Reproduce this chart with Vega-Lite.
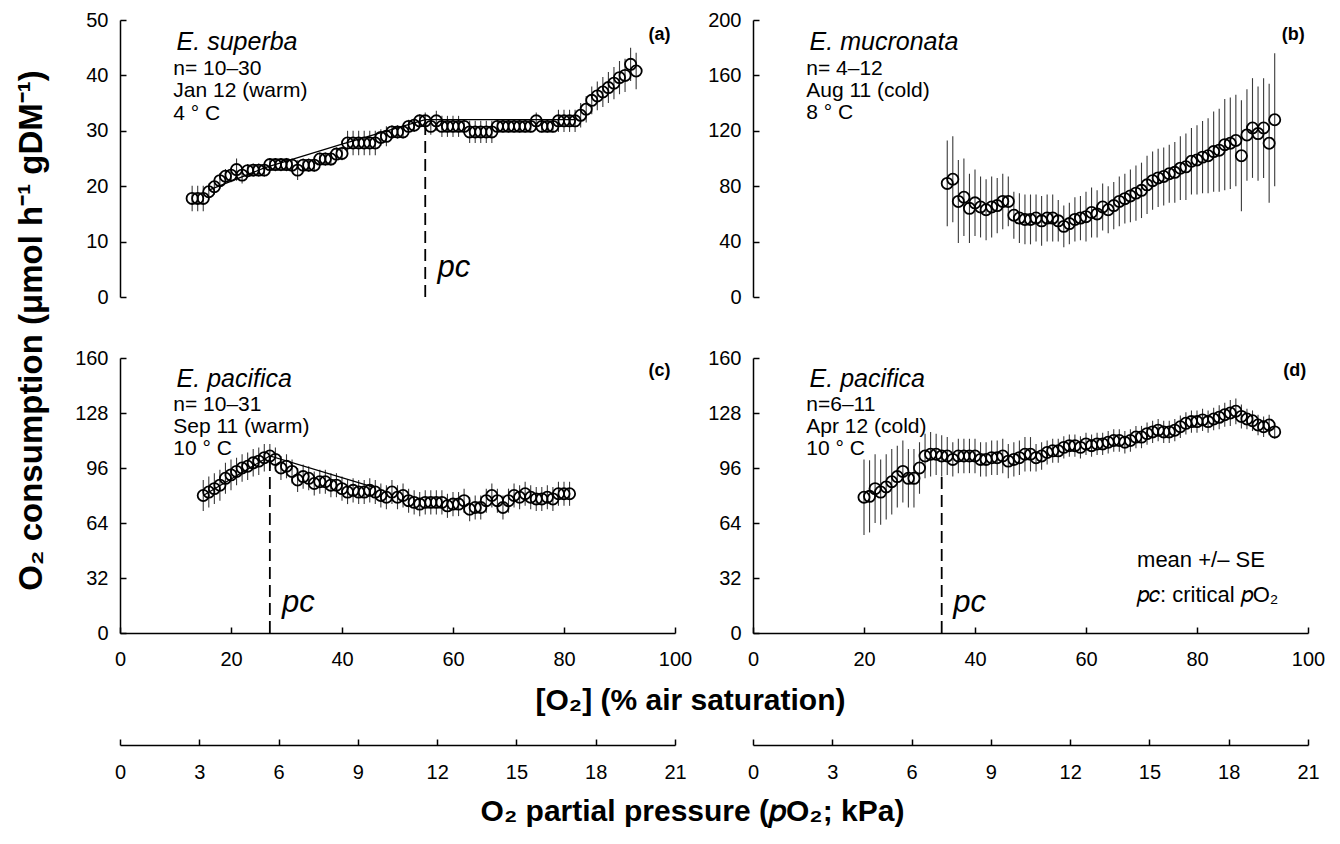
{
"$schema":"https://vega.github.io/schema/vega-lite/v6.json",
"padding":{"left":15,"top":10,"right":5,"bottom":5},
"background":"white",
"config":{
 "font":"Liberation Sans",
 "view":{"stroke":null},
 "axis":{"labelFont":"Liberation Sans","labelFontSize":20,"labelColor":"black","titleFont":"Liberation Sans","titleFontSize":30,"titleFontWeight":"bold","titleColor":"black","domainColor":"black","tickColor":"black","domainWidth":1.5,"tickWidth":1.5,"tickSize":-6,"grid":false,"labelFlush":false,"labelOverlap":false},
 "axisY":{"labelPadding":18},
 "axisX":{"labelPadding":22},
 "text":{"font":"Liberation Sans","color":"black"}
},
"datasets":{
"a":[{"x":13,"y":17.8,"se":2.3},{"x":14,"y":17.8,"se":2.3},{"x":15,"y":17.8,"se":2.3},{"x":16,"y":19,"se":1.5},{"x":17,"y":19.9,"se":1.4},{"x":18,"y":21,"se":1.4},{"x":19,"y":21.8,"se":1.3},{"x":20,"y":22,"se":1.3},{"x":21,"y":23,"se":2},{"x":22,"y":22,"se":1.5},{"x":23,"y":22.8,"se":1.2},{"x":24,"y":22.9,"se":1.2},{"x":25,"y":22.9,"se":1.2},{"x":26,"y":22.9,"se":1.2},{"x":27,"y":23.9,"se":1.2},{"x":28,"y":23.9,"se":1.2},{"x":29,"y":23.9,"se":1.2},{"x":30,"y":23.9,"se":1.2},{"x":31,"y":23.8,"se":1.2},{"x":32,"y":22.9,"se":1.8},{"x":33,"y":23.8,"se":1.2},{"x":34,"y":23.8,"se":1.2},{"x":35,"y":23.8,"se":1.2},{"x":36,"y":24.9,"se":1.2},{"x":37,"y":24.9,"se":1.2},{"x":38,"y":24.9,"se":1.2},{"x":39,"y":25.8,"se":1.2},{"x":40,"y":25.9,"se":1.2},{"x":41,"y":27.8,"se":2.2},{"x":42,"y":27.8,"se":2.2},{"x":43,"y":27.8,"se":2.2},{"x":44,"y":27.8,"se":2.2},{"x":45,"y":27.8,"se":2.2},{"x":46,"y":27.8,"se":2.2},{"x":47,"y":28.8,"se":1.5},{"x":48,"y":29,"se":1.8},{"x":49,"y":29.8,"se":1.2},{"x":50,"y":29.8,"se":1.2},{"x":51,"y":29.8,"se":1.2},{"x":52,"y":30.8,"se":1.2},{"x":53,"y":31,"se":1.2},{"x":54,"y":31.8,"se":1.2},{"x":55,"y":31.8,"se":1.5},{"x":56,"y":30.8,"se":1.5},{"x":57,"y":31.8,"se":1.8},{"x":58,"y":30.8,"se":1.9},{"x":59,"y":30.8,"se":1.9},{"x":60,"y":30.8,"se":1.9},{"x":61,"y":30.8,"se":1.9},{"x":62,"y":30.8,"se":1.2},{"x":63,"y":29.8,"se":2},{"x":64,"y":29.8,"se":2},{"x":65,"y":29.8,"se":2},{"x":66,"y":29.8,"se":2},{"x":67,"y":29.8,"se":2},{"x":68,"y":30.8,"se":1.1},{"x":69,"y":30.8,"se":1.1},{"x":70,"y":30.8,"se":1.1},{"x":71,"y":30.8,"se":1.1},{"x":72,"y":30.8,"se":1.1},{"x":73,"y":30.8,"se":1.1},{"x":74,"y":30.8,"se":1.1},{"x":75,"y":31.8,"se":1.5},{"x":76,"y":30.8,"se":1.1},{"x":77,"y":30.8,"se":1.1},{"x":78,"y":30.8,"se":1.1},{"x":79,"y":31.8,"se":2},{"x":80,"y":31.8,"se":2},{"x":81,"y":31.8,"se":2},{"x":82,"y":31.8,"se":2},{"x":83,"y":32.8,"se":2.2},{"x":84,"y":33.9,"se":2.4},{"x":85,"y":35.5,"se":2.5},{"x":86,"y":36.3,"se":2.6},{"x":87,"y":37,"se":2.7},{"x":88,"y":37.8,"se":2.8},{"x":89,"y":38.6,"se":2.9},{"x":90,"y":39.6,"se":3},{"x":91,"y":40,"se":3},{"x":92,"y":42,"se":3},{"x":93,"y":40.8,"se":3.3}],
"b":[{"x":35,"y":82,"se":31},{"x":36,"y":85,"se":31},{"x":37,"y":69,"se":30},{"x":38,"y":72,"se":28},{"x":39,"y":64,"se":25},{"x":40,"y":68,"se":24},{"x":41,"y":65,"se":22},{"x":42,"y":63,"se":22},{"x":43,"y":65,"se":22},{"x":44,"y":66,"se":20},{"x":45,"y":69,"se":20},{"x":46,"y":69,"se":18},{"x":47,"y":59,"se":17},{"x":48,"y":57,"se":18},{"x":49,"y":56,"se":18},{"x":50,"y":56,"se":18},{"x":51,"y":57,"se":17},{"x":52,"y":55,"se":18},{"x":53,"y":57,"se":17},{"x":54,"y":57,"se":17},{"x":55,"y":55,"se":15},{"x":56,"y":51,"se":15},{"x":57,"y":53,"se":15},{"x":58,"y":56,"se":16},{"x":59,"y":57,"se":16},{"x":60,"y":58,"se":18},{"x":61,"y":61,"se":18},{"x":62,"y":60,"se":17},{"x":63,"y":65,"se":17},{"x":64,"y":63,"se":17},{"x":65,"y":66,"se":17},{"x":66,"y":69,"se":18},{"x":67,"y":71,"se":18},{"x":68,"y":73,"se":19},{"x":69,"y":75,"se":20},{"x":70,"y":77,"se":20},{"x":71,"y":81,"se":21},{"x":72,"y":84,"se":21},{"x":73,"y":86,"se":21},{"x":74,"y":87,"se":21},{"x":75,"y":89,"se":21},{"x":76,"y":90,"se":22},{"x":77,"y":93,"se":23},{"x":78,"y":94,"se":24},{"x":79,"y":98,"se":24},{"x":80,"y":99,"se":25},{"x":81,"y":101,"se":26},{"x":82,"y":102,"se":27},{"x":83,"y":105,"se":29},{"x":84,"y":106,"se":30},{"x":85,"y":110,"se":33},{"x":86,"y":111,"se":33},{"x":87,"y":113,"se":33},{"x":88,"y":102,"se":40},{"x":89,"y":117,"se":33},{"x":90,"y":122,"se":36},{"x":91,"y":118,"se":34},{"x":92,"y":122,"se":36},{"x":93,"y":111,"se":43},{"x":94,"y":128,"se":48}],
"c":[{"x":15,"y":80,"se":9},{"x":16,"y":82,"se":9},{"x":17,"y":84,"se":9},{"x":18,"y":86,"se":9},{"x":19,"y":90,"se":9},{"x":20,"y":92,"se":9},{"x":21,"y":94,"se":8},{"x":22,"y":96,"se":8},{"x":23,"y":97,"se":8},{"x":24,"y":99,"se":8},{"x":25,"y":100,"se":8},{"x":26,"y":102,"se":8},{"x":27,"y":103,"se":7},{"x":28,"y":101,"se":7},{"x":29,"y":96,"se":7},{"x":30,"y":97,"se":7},{"x":31,"y":94,"se":7},{"x":32,"y":89,"se":7},{"x":33,"y":91,"se":7},{"x":34,"y":90,"se":7},{"x":35,"y":87,"se":7},{"x":36,"y":88,"se":7},{"x":37,"y":88,"se":7},{"x":38,"y":86,"se":7},{"x":39,"y":86,"se":7},{"x":40,"y":84,"se":7},{"x":41,"y":82,"se":7},{"x":42,"y":83,"se":7},{"x":43,"y":82,"se":7},{"x":44,"y":82,"se":7},{"x":45,"y":83,"se":7},{"x":46,"y":82,"se":7},{"x":47,"y":80,"se":7},{"x":48,"y":79,"se":7},{"x":49,"y":82,"se":7},{"x":50,"y":79,"se":7},{"x":51,"y":80,"se":7},{"x":52,"y":77,"se":7},{"x":53,"y":76,"se":7},{"x":54,"y":75,"se":7},{"x":55,"y":76,"se":7},{"x":56,"y":76,"se":7},{"x":57,"y":76,"se":7},{"x":58,"y":76,"se":7},{"x":59,"y":74,"se":7},{"x":60,"y":75,"se":7},{"x":61,"y":75,"se":7},{"x":62,"y":77,"se":7},{"x":63,"y":72,"se":7},{"x":64,"y":73,"se":7},{"x":65,"y":73,"se":7},{"x":66,"y":77,"se":7},{"x":67,"y":80,"se":7},{"x":68,"y":77,"se":7},{"x":69,"y":73,"se":7},{"x":70,"y":77,"se":7},{"x":71,"y":80,"se":7},{"x":72,"y":79,"se":7},{"x":73,"y":81,"se":7},{"x":74,"y":79,"se":7},{"x":75,"y":78,"se":7},{"x":76,"y":78,"se":7},{"x":77,"y":79,"se":7},{"x":78,"y":78,"se":7},{"x":79,"y":81,"se":7},{"x":80,"y":81,"se":7},{"x":81,"y":81,"se":7}],
"d":[{"x":20,"y":79,"se":22},{"x":21,"y":79.5,"se":21},{"x":22,"y":84,"se":20},{"x":23,"y":82,"se":19},{"x":24,"y":85,"se":19},{"x":25,"y":88,"se":19},{"x":26,"y":91,"se":18},{"x":27,"y":94,"se":18},{"x":28,"y":90,"se":17},{"x":29,"y":90,"se":17},{"x":30,"y":96,"se":15},{"x":31,"y":103,"se":13},{"x":32,"y":104,"se":13},{"x":33,"y":104,"se":12},{"x":34,"y":103,"se":12},{"x":35,"y":103,"se":11},{"x":36,"y":101,"se":10},{"x":37,"y":103,"se":10},{"x":38,"y":103,"se":10},{"x":39,"y":103,"se":10},{"x":40,"y":103,"se":10},{"x":41,"y":101,"se":10},{"x":42,"y":101,"se":10},{"x":43,"y":102,"se":10},{"x":44,"y":102,"se":10},{"x":45,"y":103,"se":10},{"x":46,"y":100,"se":10},{"x":47,"y":101,"se":10},{"x":48,"y":102,"se":10},{"x":49,"y":104,"se":10},{"x":50,"y":104,"se":10},{"x":51,"y":102,"se":8},{"x":52,"y":103,"se":8},{"x":53,"y":105,"se":7},{"x":54,"y":106,"se":7},{"x":55,"y":106,"se":7},{"x":56,"y":108,"se":6.5},{"x":57,"y":109,"se":6.5},{"x":58,"y":109,"se":6.5},{"x":59,"y":108,"se":6.5},{"x":60,"y":110,"se":6.5},{"x":61,"y":109,"se":6.5},{"x":62,"y":110,"se":6.5},{"x":63,"y":110,"se":6.5},{"x":64,"y":111,"se":6.5},{"x":65,"y":112,"se":6.5},{"x":66,"y":112,"se":6.5},{"x":67,"y":111,"se":6.5},{"x":68,"y":112,"se":6.5},{"x":69,"y":114,"se":6.5},{"x":70,"y":114,"se":6.5},{"x":71,"y":116,"se":6.5},{"x":72,"y":117,"se":6.5},{"x":73,"y":118,"se":6.5},{"x":74,"y":117,"se":6.5},{"x":75,"y":117,"se":6.5},{"x":76,"y":118,"se":6.5},{"x":77,"y":120,"se":6.5},{"x":78,"y":122,"se":6.5},{"x":79,"y":123,"se":6.5},{"x":80,"y":123,"se":6.5},{"x":81,"y":124,"se":6.5},{"x":82,"y":123,"se":6.5},{"x":83,"y":124.5,"se":6.5},{"x":84,"y":125.5,"se":7},{"x":85,"y":127,"se":7},{"x":86,"y":128,"se":7.5},{"x":87,"y":129,"se":7.5},{"x":88,"y":126,"se":7},{"x":89,"y":124.5,"se":6},{"x":90,"y":123.5,"se":6},{"x":91,"y":121,"se":6},{"x":92,"y":120,"se":6},{"x":93,"y":121,"se":6},{"x":94,"y":117,"se":4}],
"fitA":[{"x":16,"y":19.3},{"x":26,"y":23.3},{"x":40,"y":27.6},{"x":55,"y":32},{"x":82,"y":32}],
"fitC":[{"x":15,"y":80},{"x":27,"y":103},{"x":45.5,"y":85}]
},
"bounds":"flush",
"columns":2,
"spacing":{"row":61,"column":78},
"concat":[
 {"width":555,"height":277,
  "encoding":{"x":{"field":"x","type":"quantitative","scale":{"domain":[0,100],"nice":false},"axis":null},
   "y":{"field":"y","type":"quantitative","scale":{"domain":[0,50],"nice":false},"axis":{"values":[0,10,20,30,40,50],"title":"O₂ consumption (μmol h⁻¹ gDM⁻¹)","titleFontSize":33,"titleX":-89,"titleY":310,"titleAngle":-90,"titleAlign":"center","titleBaseline":"middle"}}},
  "layer":[
   {"data":{"name":"a"},"mark":{"type":"errorbar","ticks":false,"color":"#3a3a3a","thickness":1.1},"encoding":{"yError":{"field":"se"}}},
   {"data":{"name":"fitA"},"mark":{"type":"line","color":"black","strokeWidth":1.2},"encoding":{}},
   {"data":{"name":"a"},"mark":{"type":"point","shape":"circle","filled":false,"size":125,"strokeWidth":1.8,"color":"black","opacity":1}},
   {"data":{"values":[{"x":55,"y":0,"y2":31}]},"mark":{"type":"rule","strokeDash":[12,6],"strokeWidth":1.8,"color":"black"},"encoding":{"y2":{"field":"y2"}}},
   {"data":{"values":[{"x":10.2,"y":46,"t":"E. superba"}]},"mark":{"type":"text","align":"left","baseline":"middle","fontSize":25,"fontStyle":"italic"},"encoding":{"text":{"field":"t"}}},
   {"data":{"values":[{"x":9.6,"y":41.1,"t":"n= 10–30"},{"x":9.6,"y":37.1,"t":"Jan 12 (warm)"},{"x":9.6,"y":33.1,"t":"4 ° C"}]},"mark":{"type":"text","align":"left","baseline":"middle","fontSize":21},"encoding":{"text":{"field":"t"}}},
   {"data":{"values":[{"x":99.2,"y":47.3,"t":"(a)"}]},"mark":{"type":"text","align":"right","baseline":"middle","fontSize":18,"fontWeight":"bold"},"encoding":{"text":{"field":"t"}}},
   {"data":{"values":[{"x":57.2,"y":5.2,"t":"pc"}]},"mark":{"type":"text","align":"left","baseline":"middle","fontSize":31,"fontStyle":"italic"},"encoding":{"text":{"field":"t"}}}
  ]},
 {"width":555,"height":277,
  "encoding":{"x":{"field":"x","type":"quantitative","scale":{"domain":[0,100],"nice":false},"axis":null},
   "y":{"field":"y","type":"quantitative","scale":{"domain":[0,200],"nice":false},"axis":{"values":[0,40,80,120,160,200],"title":null}}},
  "layer":[
   {"data":{"name":"b"},"mark":{"type":"errorbar","ticks":false,"color":"#3a3a3a","thickness":1.1},"encoding":{"yError":{"field":"se"}}},
   {"data":{"name":"b"},"mark":{"type":"point","shape":"circle","filled":false,"size":125,"strokeWidth":1.8,"color":"black","opacity":1}},
   {"data":{"values":[{"x":10.2,"y":183.8,"t":"E. mucronata"}]},"mark":{"type":"text","align":"left","baseline":"middle","fontSize":25,"fontStyle":"italic"},"encoding":{"text":{"field":"t"}}},
   {"data":{"values":[{"x":9.6,"y":164.3,"t":"n= 4–12"},{"x":9.6,"y":148.4,"t":"Aug 11 (cold)"},{"x":9.6,"y":132.6,"t":"8 ° C"}]},"mark":{"type":"text","align":"left","baseline":"middle","fontSize":21},"encoding":{"text":{"field":"t"}}},
   {"data":{"values":[{"x":99.4,"y":189.2,"t":"(b)"}]},"mark":{"type":"text","align":"right","baseline":"middle","fontSize":18,"fontWeight":"bold"},"encoding":{"text":{"field":"t"}}}
  ]},
 {"width":555,"height":275,
  "encoding":{"x":{"field":"x","type":"quantitative","scale":{"domain":[0,100],"nice":false},"axis":{"values":[0,20,40,60,80,100],"title":"[O₂] (% air saturation)","titleX":570,"titleY":67,"titleAlign":"center","titleBaseline":"middle"}},
   "y":{"field":"y","type":"quantitative","scale":{"domain":[0,160],"nice":false},"axis":{"values":[0,32,64,96,128,160],"title":null}}},
  "layer":[
   {"data":{"name":"c"},"mark":{"type":"errorbar","ticks":false,"color":"#3a3a3a","thickness":1.1},"encoding":{"yError":{"field":"se"}}},
   {"data":{"name":"fitC"},"mark":{"type":"line","color":"black","strokeWidth":1.2},"encoding":{}},
   {"data":{"name":"c"},"mark":{"type":"point","shape":"circle","filled":false,"size":125,"strokeWidth":1.8,"color":"black","opacity":1}},
   {"data":{"values":[{"x":27,"y":0,"y2":101}]},"mark":{"type":"rule","strokeDash":[12,6],"strokeWidth":1.8,"color":"black"},"encoding":{"y2":{"field":"y2"}}},
   {"data":{"values":[{"x":10.2,"y":147.6,"t":"E. pacifica"}]},"mark":{"type":"text","align":"left","baseline":"middle","fontSize":25,"fontStyle":"italic"},"encoding":{"text":{"field":"t"}}},
   {"data":{"values":[{"x":9.6,"y":132.6,"t":"n= 10–31"},{"x":9.6,"y":119.8,"t":"Sep 11 (warm)"},{"x":9.6,"y":107,"t":"10 ° C"}]},"mark":{"type":"text","align":"left","baseline":"middle","fontSize":21},"encoding":{"text":{"field":"t"}}},
   {"data":{"values":[{"x":99.2,"y":152.2,"t":"(c)"}]},"mark":{"type":"text","align":"right","baseline":"middle","fontSize":18,"fontWeight":"bold"},"encoding":{"text":{"field":"t"}}},
   {"data":{"values":[{"x":29.2,"y":17.6,"t":"pc"}]},"mark":{"type":"text","align":"left","baseline":"middle","fontSize":31,"fontStyle":"italic"},"encoding":{"text":{"field":"t"}}}
  ]},
 {"width":555,"height":275,
  "encoding":{"x":{"field":"x","type":"quantitative","scale":{"domain":[0,100],"nice":false},"axis":{"values":[0,20,40,60,80,100],"title":null}},
   "y":{"field":"y","type":"quantitative","scale":{"domain":[0,160],"nice":false},"axis":{"values":[0,32,64,96,128,160],"title":null}}},
  "layer":[
   {"data":{"name":"d"},"mark":{"type":"errorbar","ticks":false,"color":"#3a3a3a","thickness":1.1},"encoding":{"yError":{"field":"se"}}},
   {"data":{"name":"d"},"mark":{"type":"point","shape":"circle","filled":false,"size":125,"strokeWidth":1.8,"color":"black","opacity":1}},
   {"data":{"values":[{"x":34,"y":0,"y2":91}]},"mark":{"type":"rule","strokeDash":[12,6],"strokeWidth":1.8,"color":"black"},"encoding":{"y2":{"field":"y2"}}},
   {"data":{"values":[{"x":10.2,"y":147.6,"t":"E. pacifica"}]},"mark":{"type":"text","align":"left","baseline":"middle","fontSize":25,"fontStyle":"italic"},"encoding":{"text":{"field":"t"}}},
   {"data":{"values":[{"x":9.6,"y":132.6,"t":"n=6–11"},{"x":9.6,"y":119.8,"t":"Apr 12 (cold)"},{"x":9.6,"y":107,"t":"10 ° C"}]},"mark":{"type":"text","align":"left","baseline":"middle","fontSize":21},"encoding":{"text":{"field":"t"}}},
   {"data":{"values":[{"x":99.7,"y":152.2,"t":"(d)"}]},"mark":{"type":"text","align":"right","baseline":"middle","fontSize":18,"fontWeight":"bold"},"encoding":{"text":{"field":"t"}}},
   {"data":{"values":[{"x":36.1,"y":17.5,"t":"pc"}]},"mark":{"type":"text","align":"left","baseline":"middle","fontSize":31,"fontStyle":"italic"},"encoding":{"text":{"field":"t"}}},
   {"data":{"values":[{"x":69.2,"y":42.6,"t":"mean +/– SE"},{"x":69.2,"y":22.3,"t":"𝑝𝑐: critical 𝑝O₂"}]},"mark":{"type":"text","align":"left","baseline":"middle","fontSize":22},"encoding":{"text":{"field":"t"}}}
  ]},
 {"width":555,"height":51,"data":{"values":[{"k":0},{"k":21}]},"mark":{"type":"point","opacity":0},
  "encoding":{"x":{"field":"k","type":"quantitative","scale":{"domain":[0,21],"nice":false},"axis":{"values":[0,3,6,9,12,15,18,21],"labelPadding":23,"title":"O₂ partial pressure (𝑝O₂; kPa)","titleX":572,"titleY":66,"titleAlign":"center","titleBaseline":"middle"}}}},
 {"width":555,"height":51,"data":{"values":[{"k":0},{"k":21}]},"mark":{"type":"point","opacity":0},
  "encoding":{"x":{"field":"k","type":"quantitative","scale":{"domain":[0,21],"nice":false},"axis":{"values":[0,3,6,9,12,15,18,21],"labelPadding":23,"title":null}}}}
]
}
